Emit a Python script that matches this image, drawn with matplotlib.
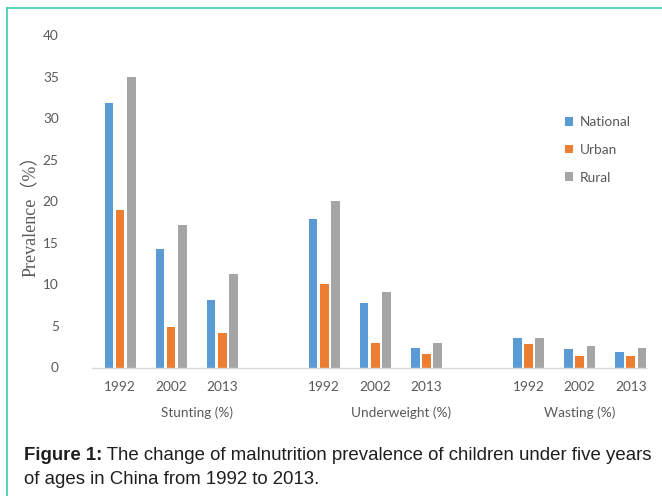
import matplotlib
matplotlib.use("Agg")
import matplotlib.pyplot as plt
from matplotlib.lines import Line2D
import matplotlib.transforms as mtransforms
import numpy as np

# ---- data ----
groups = ["Stunting (%)", "Underweight (%)", "Wasting (%)"]
years = ["1992", "2002", "2013"]
series_names = ["National", "Urban", "Rural"]
national = [31.8, 14.3, 8.1, 17.9, 7.7, 2.3, 3.6, 2.2, 1.9]
urban = [19.0, 4.9, 4.1, 10.0, 3.0, 1.6, 2.8, 1.4, 1.4]
rural = [34.9, 17.1, 11.2, 20.0, 9.1, 3.0, 3.6, 2.6, 2.3]
colors = ["#5B9BD5", "#ED7D31", "#A5A5A5"]

# category slots: each group has 3 years + one empty slot (last group has none)
slots = []
for gi in range(len(groups)):
    for yi in range(len(years)):
        slots.append(gi * 4 + yi)
slots = np.array(slots, dtype=float)
group_centers = [1.5, 5.5, 9.0]

W, H = 662, 496
fig = plt.figure(figsize=(W / 100, H / 100), dpi=100)
fig.patch.set_facecolor("white")

ax_left, ax_right = 92 / W, 646 / W
ax_bottom, ax_top = (H - 367.5) / H, (H - 35) / H
ax = fig.add_axes([ax_left, ax_bottom, ax_right - ax_left, ax_top - ax_bottom])

tick_font = "Lato"
grey_txt = "#595959"
fs = 9.8

bw = 0.17
off = 0.22
bars = []
for k, (vals, c, name) in enumerate(zip([national, urban, rural], colors, series_names)):
    b = ax.bar(slots + (k - 1) * off, vals, width=bw, color=c, label=name, zorder=2)
    bars.append(b)

ax.set_ylim(0, 40)
ax.set_xlim(-0.55, 10.3)
ax.set_yticks(np.arange(0, 41, 5))
ax.set_yticklabels([str(v) for v in range(0, 41, 5)], fontfamily=tick_font,
                   fontsize=fs, color=grey_txt)
ax.set_xticks(slots)
ax.set_xticklabels(years * len(groups), fontfamily=tick_font, fontsize=fs, color=grey_txt)
ax.tick_params(axis="y", length=0, pad=24)
ax.tick_params(axis="x", length=0, pad=10)

for s in ["top", "right", "left"]:
    ax.spines[s].set_visible(False)
ax.spines["bottom"].set_color("#D9D9D9")
ax.spines["bottom"].set_linewidth(1.0)

# group labels
trans = mtransforms.blended_transform_factory(ax.transData, fig.transFigure)
for gc, g in zip(group_centers, groups):
    ax.text(gc, (H - 413) / H, g, transform=trans, ha="center", va="center",
            fontfamily=tick_font, fontsize=fs, color=grey_txt)

# y label
fig.text(31 / W, (H - 212) / H, "Prevalence（%）", rotation=90, ha="center", va="center",
         fontsize=13, color=grey_txt, family=["Liberation Serif", "Noto Sans CJK SC"])

# legend
leg = ax.legend(handles=bars, loc="upper left", bbox_to_anchor=(553 / W, (H - 104) / H),
                bbox_transform=fig.transFigure, frameon=False, handlelength=0.6,
                handleheight=0.6, handletextpad=0.5, labelspacing=1.15,
                prop={"family": tick_font, "size": fs})
for t in leg.get_texts():
    t.set_color(grey_txt)

# caption
cap_font = "Liberation Sans"
cfs = 13.4
t1 = fig.text(24 / W, (H - 456) / H, "Figure 1:", fontweight="bold", fontsize=cfs,
              family=cap_font, color="#1e1e1e", va="center")
ax.annotate(" The change of malnutrition prevalence of children under five years",
            xy=(1, 0.5), xycoords=t1, va="center", ha="left", fontsize=cfs,
            family=cap_font, color="#1e1e1e", annotation_clip=False)
fig.text(24 / W, (H - 479) / H, "of ages in China from 1992 to 2013.", fontsize=cfs,
         family=cap_font, color="#1e1e1e", va="center")

# border
bc = "#3CC8B4"
fig.add_artist(Line2D([7 / W, 1.0], [(H - 8) / H, (H - 8) / H], transform=fig.transFigure,
                      color=bc, linewidth=1.2))
fig.add_artist(Line2D([7 / W, 7 / W], [(H - 8) / H, 0.0], transform=fig.transFigure,
                      color=bc, linewidth=1.2))

fig.savefig("out.png", dpi=100, facecolor="white")
